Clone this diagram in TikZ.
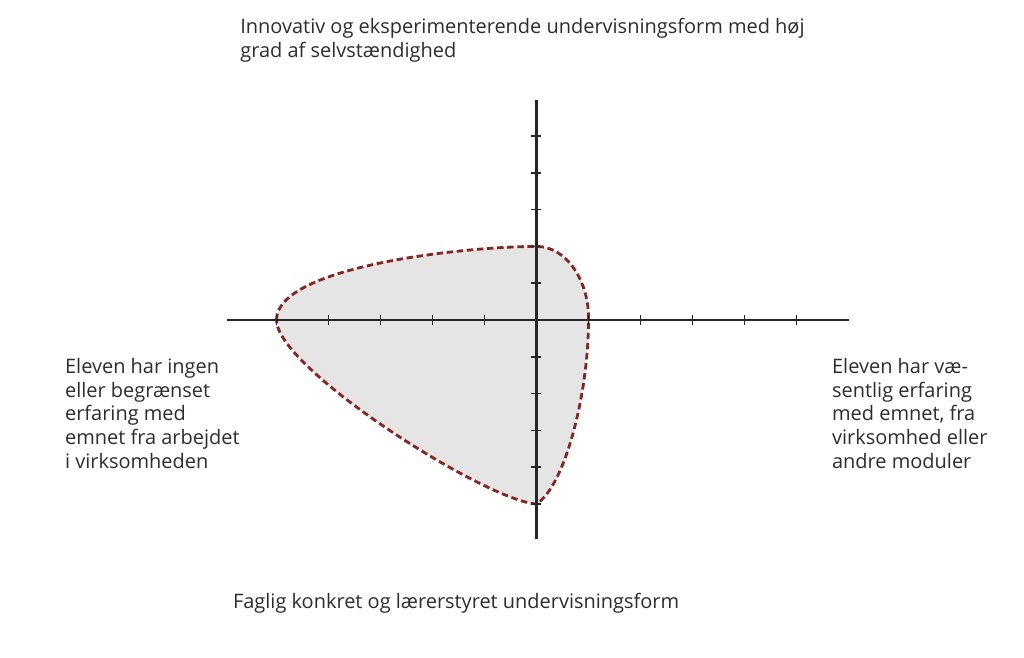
\documentclass[tikz,border=0pt]{standalone}
\usepackage{fontspec}
\setmainfont{Open Sans}
\usetikzlibrary{positioning}
\definecolor{curvered}{RGB}{135,38,30}
\definecolor{areagray}{RGB}{229,229,229}
\definecolor{txtgray}{RGB}{45,45,45}
\tikzset{
  ax/.style={line width=1.8pt, draw=black!85},
  tck/.style={line width=1.1pt, draw=black!85},
  zone/.style={draw=curvered, fill=areagray, line width=2pt, dash pattern=on 4.6pt off 2.6pt},
  lbl/.style={font=\fontsize{14.2}{16.9}\selectfont, text=txtgray, inner sep=0pt, align=left}
}

\begin{document}
\begin{tikzpicture}[x=1.3cm, y=0.92cm]
		\useasboundingbox (-10.317,-9.158) rectangle (9.375,8.696);
		% shaded profile
		\path[zone] (-5,0) .. controls (-5,1.47) and (-1.33,2) .. (0,2)
			.. controls (0.6,2) and (1.02,1) .. (1,0)
			.. controls (1,-2) and (0.55,-4.5) .. (0,-5)
			.. controls (-1,-4.9) and (-5,-1.3) .. (-5,0) -- cycle;
		% axes
		\coordinate (xl) at (-5.95,0);
		\coordinate (xr) at (6,0);
		\coordinate (yb) at (0,-5.95);
		\coordinate (yt) at (0,5.98);
		\draw[ax] (xl) -- (xr);
		\draw[ax] (yb) -- (yt);
		\draw[tck] (-5,-0.136) -- (-5,0.136) (-4,-0.136) -- (-4,0.136) (-3,-0.136) -- (-3,0.136);
		\draw[tck] (-2,-0.136) -- (-2,0.136) (-1,-0.136) -- (-1,0.136) (1,-0.136) -- (1,0.136);
		\draw[tck] (2,-0.136) -- (2,0.136) (3,-0.136) -- (3,0.136) (4,-0.136) -- (4,0.136) (5,-0.136) -- (5,0.136);
		\draw[tck] (-0.096,-5) -- (0.096,-5) (-0.096,-4) -- (0.096,-4) (-0.096,-3) -- (0.096,-3);
		\draw[tck] (-0.096,-2) -- (0.096,-2) (-0.096,-1) -- (0.096,-1) (-0.096,1) -- (0.096,1);
		\draw[tck] (-0.096,2) -- (0.096,2) (-0.096,3) -- (0.096,3) (-0.096,4) -- (0.096,4) (-0.096,5) -- (0.096,5);
		% labels
		\node[lbl, anchor=north west] (top) at (-5.70,8.21) {Innovativ og eksperimenterende undervisningsform med høj\\grad af selvstændighed};
		\node[lbl, anchor=base west] (bot) at (-5.84,-7.84) {Faglig konkret og lærerstyret undervisningsform};
		\node[lbl, anchor=north west] (lft) at (-9.07,-1.03) {Eleven har ingen\\eller begrænset\\erfaring med\\emnet fra arbejdet\\i virksomheden};
		\node[lbl, anchor=north west] (rgt) at (5.68,-1.03) {Eleven har væ-\\sentlig erfaring\\med emnet, fra\\virksomhed eller\\andre moduler};
	\end{tikzpicture}
\end{document}
